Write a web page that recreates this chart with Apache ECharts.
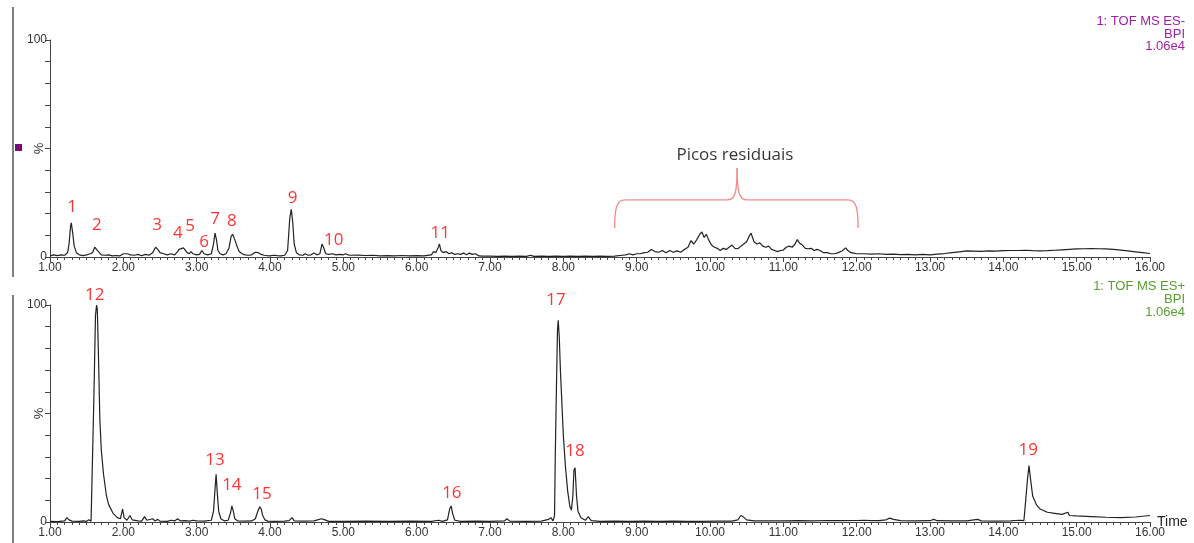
<!DOCTYPE html>
<html><head><meta charset="utf-8">
<script src="https://cdn.jsdelivr.net/npm/echarts@6/dist/echarts.min.js"></script>
<style>html,body{margin:0;padding:0;background:#fff}#c{width:1194px;height:543px}</style>
</head><body><div id="c"></div>
<script>
// ES- trace (time min, intensity %)
const negTime = [1.00,1.05,1.10,1.15,1.20,1.24,1.26,1.28,1.29,1.31,1.33,1.36,1.40,1.45,1.50,1.55,1.58,1.61,1.63,1.66,1.70,1.75,1.80,1.85,1.90,1.95,2.00,2.05,2.10,2.15,2.20,2.25,2.30,2.35,2.40,2.44,2.47,2.50,2.55,2.60,2.65,2.70,2.74,2.76,2.78,2.82,2.84,2.87,2.90,2.92,2.95,3.00,3.04,3.07,3.10,3.15,3.20,3.23,3.25,3.27,3.29,3.32,3.36,3.40,3.44,3.47,3.49,3.52,3.55,3.58,3.62,3.66,3.70,3.75,3.80,3.84,3.88,3.92,3.96,4.00,4.05,4.10,4.15,4.20,4.24,4.27,4.29,4.31,4.33,4.36,4.40,4.45,4.48,4.52,4.56,4.60,4.64,4.68,4.71,4.73,4.76,4.80,4.85,4.90,4.95,5.00,5.03,5.06,5.10,5.20,5.30,5.40,5.50,5.60,5.70,5.80,5.90,6.00,6.10,6.20,6.23,6.26,6.29,6.31,6.33,6.36,6.40,6.44,6.48,6.52,6.56,6.60,6.64,6.68,6.72,6.76,6.80,6.85,6.90,7.00,7.10,7.20,7.30,7.40,7.50,7.55,7.60,7.70,7.80,7.90,8.00,8.10,8.20,8.30,8.40,8.50,8.60,8.70,8.80,8.85,8.90,8.95,9.00,9.05,9.10,9.15,9.20,9.25,9.30,9.35,9.40,9.45,9.50,9.55,9.60,9.65,9.70,9.74,9.78,9.82,9.86,9.89,9.92,9.95,9.98,10.02,10.06,10.10,10.14,10.18,10.22,10.26,10.30,10.34,10.38,10.42,10.46,10.50,10.54,10.56,10.60,10.64,10.68,10.72,10.76,10.80,10.84,10.88,10.92,10.96,11.00,11.04,11.08,11.12,11.16,11.19,11.22,11.26,11.30,11.34,11.38,11.42,11.46,11.50,11.55,11.60,11.65,11.70,11.75,11.80,11.85,11.88,11.92,11.96,12.00,12.10,12.20,12.30,12.40,12.50,12.60,12.70,12.80,12.90,13.00,13.10,13.20,13.30,13.40,13.50,13.60,13.70,13.80,13.90,14.00,14.10,14.20,14.30,14.40,14.50,14.60,14.70,14.80,14.90,15.00,15.10,15.20,15.30,15.40,15.50,15.60,15.70,15.80,15.90,16.00];
const negInt = [0.5,1,0.6,1,0.8,2,6,14,15.7,11,5,2,1,0.6,1,1.5,2,4.5,5,2.5,1,0.8,1,0.5,0.7,0.5,1.5,1.5,1,0.8,1.2,0.6,1.2,0.8,2,4.5,3.5,2,1.5,1,1.5,1,2.5,3.5,2.8,4.2,4,2,1.5,2.5,1.5,1,1.2,3,1.5,1,1.5,6,11,8,3,1.5,1,1.5,4,9.5,10.5,8,5,2.5,1.5,1,0.8,1,2.2,2,1.2,0.8,0.6,0.5,0.8,0.6,0.5,0.8,3,18,22,16,6,2,1,0.8,1.5,0.8,1,1.8,1,1.5,6,4.5,1.5,1.2,1.5,1,1.2,1,1.5,1,0.8,0.9,0.7,0.8,0.5,0.6,0.5,0.7,0.5,0.6,0.5,1,2.5,2,4,6,3,2,2.5,1.5,2,1.2,1.5,1.2,1.8,1,1.8,1.2,1.5,0.5,0.4,0.4,0.3,0.4,0.3,0.4,0.3,0.8,0.3,0.4,0.3,0.4,0.3,0.4,0.3,0.4,0.3,0.4,0.3,0.4,0.8,1,1.5,1,1.5,1.5,2,2.2,3.5,2.5,2.2,3,2,3,2.2,2.8,2.2,3.5,4.5,7.5,6,8,10.5,11.5,9,10.5,8,5.5,4.5,4,3,4,3.5,4.5,5.5,4,3.8,5,6,7,10,11,7,6,6.5,5,4.5,5,3.5,3,2.5,3,3.2,4.5,5,4.5,6,8,6.5,5.5,4,3.8,4,3,3.5,3,2,2,1.5,1.5,2,2.8,4.2,3,2,1.8,1.5,1.5,1.3,1.5,1.2,1.3,1.1,1.2,1,1.2,1,1.3,1.6,2,2.4,2.8,2.7,2.6,2.8,2.7,2.9,3,3,3.1,2.9,2.8,2.9,3.1,3.3,3.5,3.7,3.8,3.9,3.8,3.7,3.5,3.2,2.8,2.4,2,1.6,1.3];

// ES+ trace
const posTime = [1.00,1.10,1.20,1.23,1.26,1.30,1.40,1.45,1.50,1.53,1.56,1.575,1.58,1.60,1.62,1.635,1.645,1.66,1.68,1.70,1.73,1.77,1.80,1.86,1.92,1.96,1.99,2.01,2.05,2.09,2.12,2.20,2.25,2.29,2.32,2.40,2.43,2.47,2.50,2.60,2.65,2.70,2.74,2.78,2.85,2.90,2.95,3.00,3.10,3.20,3.23,3.25,3.265,3.28,3.30,3.33,3.38,3.43,3.46,3.48,3.50,3.52,3.56,3.65,3.75,3.80,3.84,3.86,3.88,3.90,3.93,3.97,4.05,4.20,4.26,4.30,4.33,4.45,4.60,4.65,4.70,4.75,4.80,5.00,5.30,5.60,5.90,6.20,6.30,6.35,6.42,6.45,6.47,6.49,6.52,6.60,6.80,7.00,7.20,7.23,7.27,7.50,7.70,7.80,7.83,7.86,7.88,7.89,7.905,7.92,7.93,7.945,7.96,7.98,8.00,8.03,8.06,8.09,8.11,8.13,8.145,8.16,8.18,8.20,8.24,8.30,8.34,8.38,8.50,8.70,8.90,9.10,9.30,9.50,9.70,9.90,10.10,10.30,10.38,10.42,10.45,10.50,10.60,10.80,11.00,11.20,11.40,11.60,11.80,12.00,12.10,12.20,12.30,12.40,12.45,12.50,12.60,12.80,13.00,13.05,13.10,13.30,13.50,13.65,13.70,13.90,14.10,14.22,14.28,14.30,14.33,14.35,14.37,14.40,14.45,14.50,14.60,14.70,14.80,14.88,14.90,15.00,15.20,15.40,15.60,15.80,16.00];
const posInt = [0.3,0.2,0.5,2,1,0.4,0.3,0.5,0.3,1,0.3,1,30,60,95,100,98,78,47,33,22,12,8,4,2,1.5,6,2,0.8,3,1,0.5,0.4,2.5,0.8,1.5,0.5,1.2,0.4,0.3,0.8,0.5,1.5,0.5,0.6,0.4,0.8,0.5,0.4,0.8,5,15,22,14,5,1.5,0.5,0.8,4,7.4,5,1.5,0.5,0.4,0.5,1.5,5.5,7,6,3,1,0.4,0.3,0.4,0.6,2,0.5,0.4,0.5,1,1.5,1,0.3,0.3,0.4,0.3,0.4,0.3,0.8,0.3,1,6,7.4,4,0.8,0.3,0.4,0.3,0.5,1.5,0.4,0.3,0.4,1.2,2,0.5,3,30,60,88,93,85,70,55,40,25,14,7,5.5,12,24,25,12,5,2,0.8,2.5,0.6,0.3,0.4,0.3,0.4,0.3,0.4,0.3,0.3,0.4,0.4,1,3,2.5,1,0.5,0.5,0.5,0.6,0.5,0.7,0.6,0.7,0.8,0.6,0.6,1,1.8,1.2,0.6,0.5,0.6,1.2,0.6,0.5,0.5,1.2,0.5,0.4,0.5,0.8,0.6,8,20,26,20,12,8,6,4.5,4,3.5,4.5,3,2.8,2.5,2.2,2,2.3,3];

// peak number labels: [time, %] anchor, text
const negLabelPos = [[1.30,23.0],[1.64,14.7],[2.46,14.7],[2.745,11.1],[2.91,14.3],[3.10,6.9],[3.25,17.5],[3.48,16.6],[4.31,27.2],[4.87,7.8],[6.32,11.1]];
const negLabelText = ['1','2','3','4','5','6','7','8','9','10','11'];
const posLabelPos = [[1.61,104.6],[3.25,28.5],[3.48,16.9],[3.89,12.8],[6.48,13.3],[7.90,102.3],[8.16,32.6],[14.34,33.1]];
const posLabelText = ['12','13','14','15','16','17','18','19'];

// residual-peak bracket: [left end, right end], tip, levels
const braceX = [8.70, 12.02];
const braceTipX = 10.37;
const braceLevels = {end: 13.4, bar: 26.3, tip: 41};
const braceLabel = {x: 10.34, y: 47, text: 'Picos residuais'};

const yTicks = {min: 0, max: 100, interval: 10};
const xTicks = {min: 1, max: 16, interval: 1};

const chart = echarts.init(document.getElementById('c'), null, {renderer: 'canvas'});
const axisCol = '#444';
const lblFont = {fontFamily: 'Liberation Sans, Arial, sans-serif', fontSize: 12, color: '#333'};
function mkX(gi, name) {
  return {
    type: 'value', gridIndex: gi, min: xTicks.min, max: xTicks.max, interval: xTicks.interval,
    axisLine: {show: true, onZero: false, lineStyle: {color: axisCol, width: 1}},
    axisTick: {show: true, length: 5, lineStyle: {color: axisCol}},
    minorTick: {show: true, splitNumber: 10, length: 3, lineStyle: {color: axisCol}},
    splitLine: {show: false},
    axisLabel: Object.assign({margin: 5, formatter: v => v.toFixed(2)}, lblFont),
    name: name || '', nameLocation: 'end', nameGap: 7, nameMoveOverlap: false,
    nameTextStyle: Object.assign({}, lblFont, {fontSize: 14, color: '#222', verticalAlign: 'middle'})
  };
}
function mkY(gi) {
  return {
    type: 'value', gridIndex: gi, min: yTicks.min, max: yTicks.max, interval: yTicks.interval,
    axisLine: {show: true, lineStyle: {color: axisCol, width: 1}},
    axisTick: {show: true, length: 5, lineStyle: {color: axisCol}},
    splitLine: {show: false},
    axisLabel: Object.assign({margin: 3, formatter: v => (v === 0 || v === 100) ? String(v) : ''}, lblFont),
    name: '%', nameLocation: 'middle', nameGap: 4, nameRotate: 90, nameMoveOverlap: false,
    nameTextStyle: Object.assign({}, lblFont, {fontSize: 13})
  };
}
function pairs(t, v) { return t.map((x, i) => [x, v[i]]); }
function labelSeries(xi, pos, txt) {
  return {
    type: 'scatter', xAxisIndex: xi, yAxisIndex: xi, symbolSize: 1, clip: false, silent: true,
    itemStyle: {color: 'rgba(0,0,0,0)'},
    data: pos.map((p, i) => ({value: p, name: txt[i]})),
    label: {show: true, position: 'inside', formatter: p => p.name, color: '#ff0000',
      fontFamily: 'Open Sans, Noto Sans, sans-serif', fontSize: 17}
  };
}
const option = {
  animation: false,
  grid: [
    {left: 50, right: 44, top: 40, height: 217},
    {left: 50, right: 44, top: 305, height: 217}
  ],
  xAxis: [mkX(0), mkX(1, 'Time')],
  yAxis: [mkY(0), mkY(1)],
  series: [
    {type: 'line', xAxisIndex: 0, yAxisIndex: 0, data: pairs(negTime, negInt), showSymbol: false,
      lineStyle: {color: '#222', width: 1.2}},
    {type: 'line', xAxisIndex: 1, yAxisIndex: 1, data: pairs(posTime, posInt), showSymbol: false,
      lineStyle: {color: '#222', width: 1.2}},
    labelSeries(0, negLabelPos, negLabelText),
    labelSeries(1, posLabelPos, posLabelText),
    {type: 'scatter', xAxisIndex: 0, yAxisIndex: 0, symbolSize: 1, clip: false, silent: true,
      itemStyle: {color: 'rgba(0,0,0,0)'},
      data: [{value: [braceLabel.x, braceLabel.y], name: braceLabel.text}],
      label: {show: true, position: 'inside', formatter: p => p.name, color: '#000',
        fontFamily: 'Open Sans, Noto Sans, sans-serif', fontSize: 17}}
  ]
};
chart.setOption(option);

const P = (x, y) => chart.convertToPixel({gridIndex: 0}, [x, y]);
const L = P(braceX[0], braceLevels.end), Lb = P(braceX[0], braceLevels.bar);
const R = P(braceX[1], braceLevels.end), Rb = P(braceX[1], braceLevels.bar);
const T = P(braceTipX, braceLevels.tip), Tb = P(braceTipX, braceLevels.bar);
const r = 10;
const braceStyle = {stroke: '#f58a8a', fill: null, lineWidth: 1.3};
const bz = (x1, y1, c1x, c1y, c2x, c2y, x2, y2) => ({type: 'bezierCurve', silent: true,
  shape: {x1: x1, y1: y1, cpx1: c1x, cpy1: c1y, cpx2: c2x, cpy2: c2y, x2: x2, y2: y2}, style: braceStyle});
const ln = (x1, y1, x2, y2, st) => ({type: 'line', silent: true, shape: {x1: x1, y1: y1, x2: x2, y2: y2}, style: st});
const txt = (x, y, s, col) => ({type: 'text', x: x, y: y, silent: true, style: {text: s, fill: col, align: 'right',
  verticalAlign: 'middle', font: '13px "Liberation Sans", Arial, sans-serif'}});
const purple = '#a020a8', green = '#56a02e';
const greyLine = {stroke: '#555', lineWidth: 1.5};
chart.setOption({graphic: [
  bz(L[0], L[1], L[0], Lb[1] + 8, L[0] + 2, Lb[1], L[0] + r, Lb[1]),
  ln(L[0] + r, Lb[1], Tb[0] - r, Tb[1], braceStyle),
  bz(Tb[0] - r, Tb[1], Tb[0] - 2, Tb[1], T[0], Tb[1] - 8, T[0], T[1]),
  bz(T[0], T[1], T[0], Tb[1] - 8, Tb[0] + 2, Tb[1], Tb[0] + r, Tb[1]),
  ln(Tb[0] + r, Tb[1], R[0] - r, Rb[1], braceStyle),
  bz(R[0] - r, Rb[1], R[0] - 2, Rb[1], R[0], Rb[1] + 8, R[0], R[1]),
  ln(13, 7, 13, 277, greyLine),
  ln(13, 295, 13, 543, greyLine),
  {type: 'rect', silent: true, shape: {x: 15, y: 144, width: 7, height: 7}, style: {fill: '#7a0a7a'}},
  txt(1185, 21, '1: TOF MS ES-', purple), txt(1185, 34, 'BPI', purple), txt(1185, 46, '1.06e4', purple),
  txt(1185, 286, '1: TOF MS ES+', green), txt(1185, 299, 'BPI', green), txt(1185, 312, '1.06e4', green)
]});
</script></body></html>
